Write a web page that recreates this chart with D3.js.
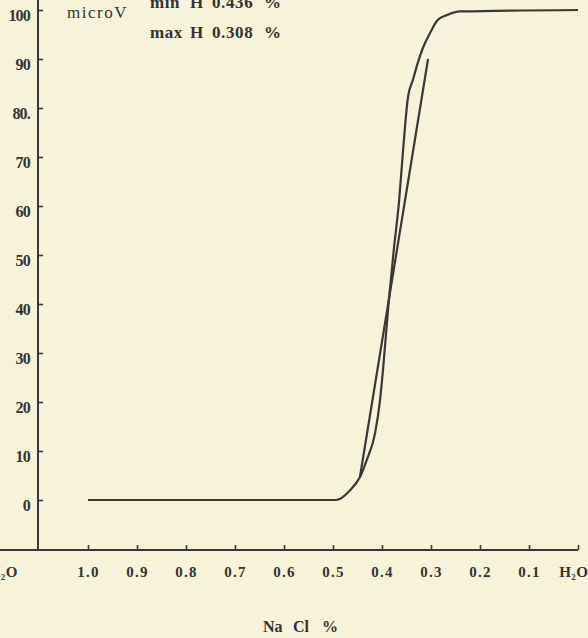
<!DOCTYPE html>
<html>
<head>
<meta charset="utf-8">
<script src="https://cdn.jsdelivr.net/npm/d3@7"></script>
<style>
  html, body { margin: 0; padding: 0; background: #f7f3da; }
  svg { display: block; }
  text { font-family: "Liberation Serif", "DejaVu Serif", serif; fill: #333; }
</style>
</head>
<body>
<svg id="chart" width="588" height="638"></svg>
<script>
// ---- data ----
const xTicks = [1.0, 0.9, 0.8, 0.7, 0.6, 0.5, 0.4, 0.3, 0.2, 0.1, 0];
const xTickLabels = ["1.0", "0.9", "0.8", "0.7", "0.6", "0.5", "0.4", "0.3", "0.2", "0.1", "H₂O"];
const yTicks = [0, 10, 20, 30, 40, 50, 60, 70, 80, 90, 100];
const yTickLabels = ["0", "10", "20", "30", "40", "50", "60", "70", "80.", "90", "100"];

// curve 1 (NaCl %, microV %)
const curve1Conc = [1.0, 0.6, 0.494, 0.465, 0.445, 0.431, 0.414, 0.404, 0.398, 0.386, 0.376, 0.365, 0.357, 0.347, 0.337, 0.327, 0.316, 0.302, 0.286, 0.267, 0.241, 0.0];
const curve1Val  = [0,   0,   0,     2.0,   4.7,   8.2,   13.7,  20.4,  26.5,  40.8,  51.0,  61.2,  71.4,  82.2,  85.7,  89.2,  92.4,  95.3,  98.0,  99.0,  99.7,  100];
// curve 2 (straight segment)
const curve2Conc = [0.445, 0.306];
const curve2Val  = [4.7,   90];

const annotationRows = [
  ["min", "H", "0.436", "%"],
  ["max", "H", "0.308", "%"]
];
const unitLabel = "microV";
const xTitle = ["Na", "Cl", "%"];

// ---- layout ----
const W = 588, H = 638;
const axisX = 38, axisY = 550;
const svg = d3.select("#chart");
svg.append("rect").attr("width", W).attr("height", H).attr("fill", "#f7f3da");

const x = d3.scaleLinear().domain([0, 1]).range([578, 88]);
const y = d3.scaleLinear().domain([0, 100]).range([500, 10]);
const ink = "#383838";

// axis lines
svg.append("line").attr("x1", 0).attr("x2", 578).attr("y1", axisY).attr("y2", axisY)
  .attr("stroke", ink).attr("stroke-width", 2);
svg.append("line").attr("x1", axisX).attr("x2", axisX).attr("y1", 0).attr("y2", axisY)
  .attr("stroke", ink).attr("stroke-width", 2);

// y axis ticks
const yAxis = d3.axisLeft(y).tickValues(yTicks)
  .tickFormat((d, i) => yTickLabels[i]).tickSize(-5).tickPadding(8);
const gy = svg.append("g").attr("transform", `translate(${axisX},0)`).call(yAxis);
gy.select(".domain").remove();
gy.selectAll(".tick line").attr("stroke", ink).attr("stroke-width", 1.6);
gy.selectAll(".tick text")
  .attr("font-size", 16).attr("font-weight", "bold").attr("fill", "#333")
  .attr("dy", "0.85em").attr("y", -3).attr("letter-spacing", -0.8);

// x axis ticks
const xAxis = d3.axisTop(x).tickValues(xTicks)
  .tickFormat((d, i) => xTickLabels[i]).tickSize(5);
const gx = svg.append("g").attr("transform", `translate(0,${axisY})`).call(xAxis);
gx.select(".domain").remove();
gx.selectAll(".tick line").attr("stroke", ink).attr("stroke-width", 1.6);
gx.selectAll(".tick text")
  .attr("font-size", 15).attr("font-weight", "bold").attr("fill", "#333")
  .attr("y", 27).attr("dy", 0).attr("letter-spacing", 1.2);
gx.selectAll(".tick").filter(d => d === 0).select("text")
  .attr("text-anchor", "end").attr("x", 10).attr("letter-spacing", 0.5);

// cut-off H2O at left edge
svg.append("text").attr("x", 18).attr("y", axisY + 27)
  .attr("text-anchor", "end").attr("font-size", 15).attr("font-weight", "bold")
  .attr("letter-spacing", 0.5).text("H₂O");

// x title
const titleXs = [263, 293, 322];
const tt = svg.append("text").attr("y", 632).attr("font-size", 16).attr("font-weight", "bold");
xTitle.forEach((s, i) => tt.append("tspan").attr("x", titleXs[i]).text(s));

// unit + annotations
svg.append("text").attr("x", 67).attr("y", 18).attr("font-size", 17)
  .attr("letter-spacing", 1.5).text(unitLabel);
const annXs = [150, 190, 212, 264];
const annYs = [7.5, 38];
annotationRows.forEach((row, r) => {
  const t = svg.append("text").attr("y", annYs[r]).attr("font-size", 17)
    .attr("font-weight", "bold").attr("letter-spacing", 0.6);
  row.forEach((s, i) => t.append("tspan").attr("x", annXs[i]).text(s));
});

// curves
const c1 = curve1Conc.map((c, i) => [c, curve1Val[i]]);
const c2 = curve2Conc.map((c, i) => [c, curve2Val[i]]);
svg.append("path")
  .attr("d", d3.line().x(d => x(d[0])).y(d => y(d[1])).curve(d3.curveMonotoneX)(c1))
  .attr("fill", "none").attr("stroke", ink).attr("stroke-width", 2.2).attr("stroke-linejoin", "round");
svg.append("path").attr("d", d3.line().x(d => x(d[0])).y(d => y(d[1]))(c2))
  .attr("fill", "none").attr("stroke", ink).attr("stroke-width", 2.2);
</script>
</body>
</html>
